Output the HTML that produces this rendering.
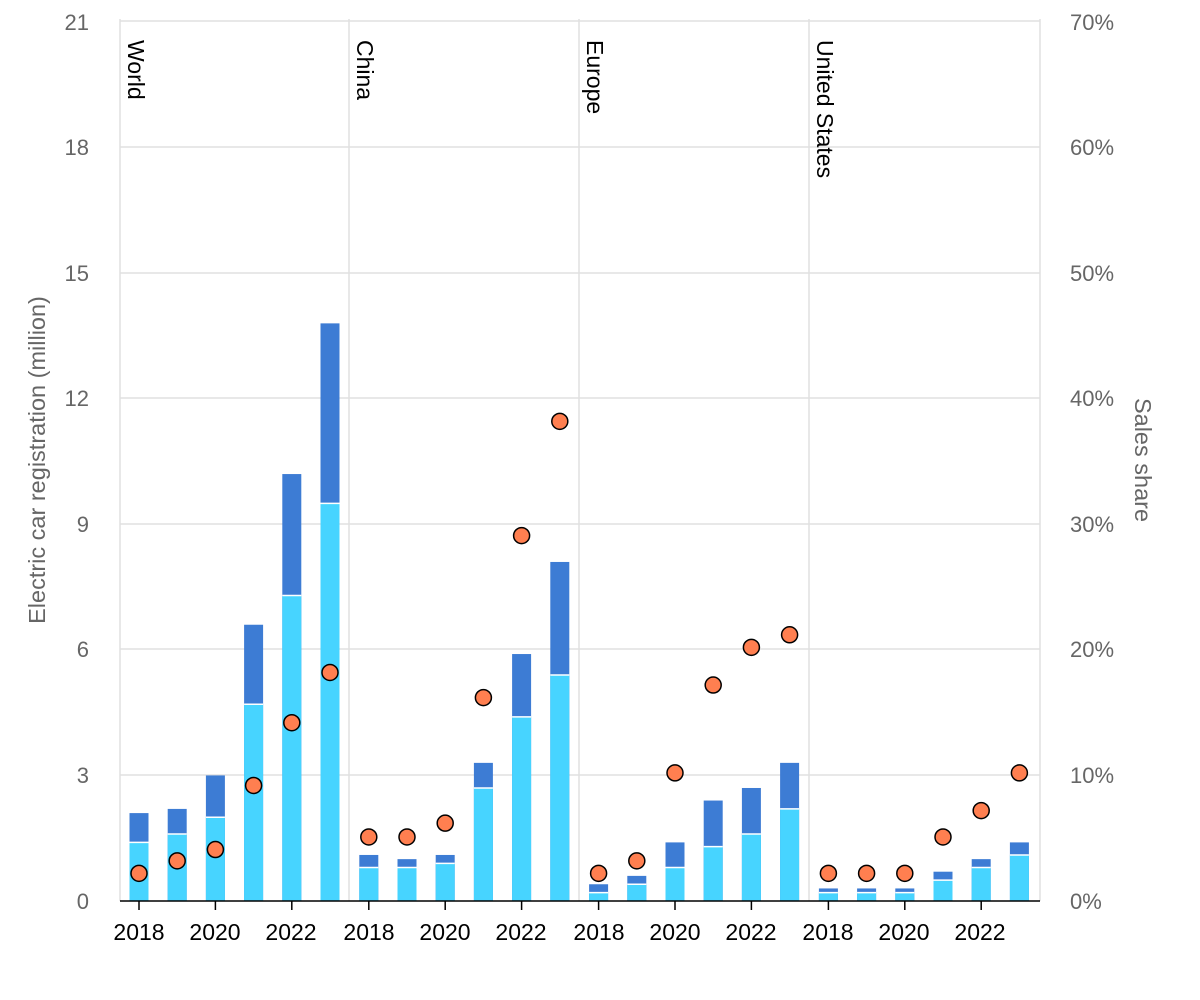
<!DOCTYPE html>
<html><head><meta charset="utf-8"><style>
html,body{margin:0;padding:0;background:#fff;}
svg{display:block;font-family:"Liberation Sans",Arial,sans-serif;}
</style></head><body>
<svg id="s" width="1200" height="1000" xmlns="http://www.w3.org/2000/svg">
<g stroke="#e0e0e0" stroke-width="1.5">
<line x1="120" x2="1040" y1="21" y2="21"/>
<line x1="120" x2="1040" y1="147" y2="147"/>
<line x1="120" x2="1040" y1="273" y2="273"/>
<line x1="120" x2="1040" y1="398" y2="398"/>
<line x1="120" x2="1040" y1="524" y2="524"/>
<line x1="120" x2="1040" y1="649" y2="649"/>
<line x1="120" x2="1040" y1="775" y2="775"/>
<line x1="120" x2="120" y1="19" y2="901"/>
<line x1="349" x2="349" y1="19" y2="901"/>
<line x1="579" x2="579" y1="19" y2="901"/>
<line x1="809" x2="809" y1="19" y2="901"/>
<line x1="1040" x2="1040" y1="19" y2="901"/>
</g>
<g id="bars"></g>
<line x1="120" x2="1040" y1="901" y2="901" stroke="#000" stroke-width="1.5"/>
<g id="ticks" stroke="#000" stroke-width="1.5"></g>
<g id="dots"></g>
<g fill="#666" font-size="22" text-anchor="end">
<text x="89" y="30">21</text><text x="89" y="155">18</text><text x="89" y="281">15</text>
<text x="89" y="406">12</text><text x="89" y="532">9</text><text x="89" y="657">6</text>
<text x="89" y="783">3</text><text x="89" y="909">0</text>
</g>
<g fill="#666" font-size="22">
<text x="1070" y="30">70%</text><text x="1070" y="155">60%</text><text x="1070" y="281">50%</text>
<text x="1070" y="406">40%</text><text x="1070" y="532">30%</text><text x="1070" y="657">20%</text>
<text x="1070" y="783">10%</text><text x="1070" y="909">0%</text>
</g>
<text transform="translate(45,460) rotate(-90)" text-anchor="middle" fill="#666" font-size="23.5">Electric car registration (million)</text>
<text transform="translate(1135,460) rotate(90)" text-anchor="middle" fill="#666" font-size="23.5">Sales share</text>
<g font-size="23" fill="#000">
<text transform="translate(128,40) rotate(90)">World</text>
<text transform="translate(357,40) rotate(90)">China</text>
<text transform="translate(587,40) rotate(90)">Europe</text>
<text transform="translate(817,40) rotate(90)">United States</text>
</g>
<g font-size="23" fill="#000" text-anchor="middle">
<text x="139" y="940">2018</text><text x="215" y="940">2020</text><text x="291" y="940">2022</text>
<text x="369" y="940">2018</text><text x="445" y="940">2020</text><text x="521" y="940">2022</text>
<text x="599" y="940">2018</text><text x="675" y="940">2020</text><text x="751" y="940">2022</text>
<text x="828" y="940">2018</text><text x="904" y="940">2020</text><text x="980" y="940">2022</text>
</g>
</svg>
<script>
var d=[
[[1.4,2.1,2.2],[1.6,2.2,3.2],[2.0,3.0,4.1],[4.7,6.6,9.2],[7.3,10.2,14.2],[9.5,13.8,18.2]],
[[0.8,1.1,5.1],[0.8,1.0,5.1],[0.9,1.1,6.2],[2.7,3.3,16.2],[4.4,5.9,29.1],[5.4,8.1,38.2]],
[[0.2,0.4,2.2],[0.4,0.6,3.2],[0.8,1.4,10.2],[1.3,2.4,17.2],[1.6,2.7,20.2],[2.2,3.3,21.2]],
[[0.2,0.3,2.2],[0.2,0.3,2.2],[0.2,0.3,2.2],[0.5,0.7,5.1],[0.8,1.0,7.2],[1.1,1.4,10.2]]];
var ns="http://www.w3.org/2000/svg",B=document.getElementById('bars'),D=document.getElementById('dots'),T=document.getElementById('ticks');
function el(p,t,a){var e=document.createElementNS(ns,t);for(var k in a)e.setAttribute(k,a[k]);p.appendChild(e);}
var py=879/21;
for(var p=0;p<4;p++)for(var i=0;i<6;i++){
var cx=139+p*229.8+i*38.2,v=d[p][i];
var yt=901-v[1]*py,yl=901-v[0]*py;
el(B,'rect',{x:cx-9.5,y:yt,width:19,height:901-yt,fill:'#3d7cd4'});
el(B,'rect',{x:cx-9.5,y:yl,width:19,height:901-yl,fill:'#47d4ff'});
el(B,'line',{x1:cx-9.5,x2:cx+9.5,y1:yl,y2:yl,stroke:'#fff','stroke-width':1.5});
if(i%2==0)el(T,'line',{x1:cx,x2:cx,y1:901,y2:910});
el(D,'circle',{cx:cx,cy:901-v[2]*12.557,r:8,fill:'#ff7f50',stroke:'#000','stroke-width':1.5});
}
</script>
</body></html>
